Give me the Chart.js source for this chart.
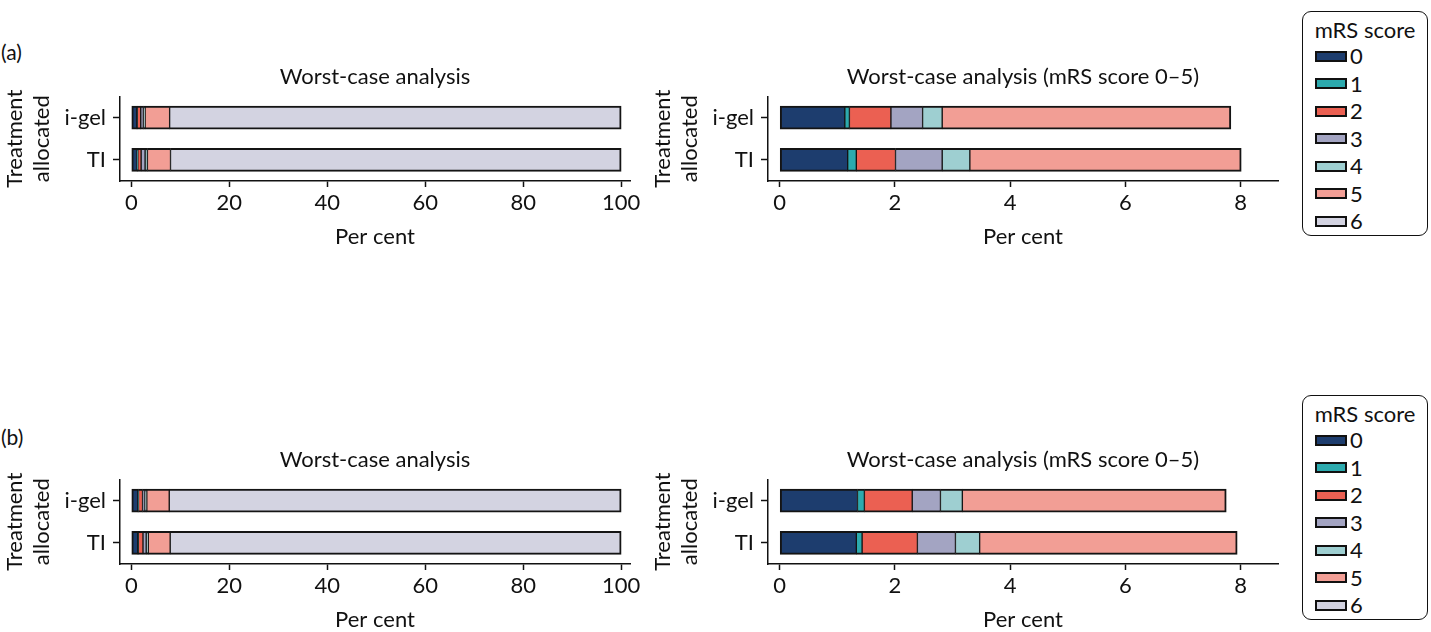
<!DOCTYPE html>
<html lang="en">
<head>
<meta charset="UTF-8">
<title>mRS score by treatment allocated</title>
<script src="https://cdn.jsdelivr.net/npm/chart.js"></script>
<style>
  body { margin: 0; width: 1431px; height: 632px; overflow: hidden; background: #fff; font-family: Lato, sans-serif; color: #111; }
  canvas { position: absolute; }
  .tag { position: absolute; left: 1px; font-size: 21px; line-height: 24px; }
  .legend { position: absolute; left: 1302px; width: 126px; height: 225px; box-sizing: border-box; border: 1.5px solid #111; border-radius: 9px; font-size: 22px; }
  .legend .ttl { position: absolute; left: 0; width: 100%; text-align: center; top: 5px; line-height: 26px; }
  .legend .row { position: absolute; left: 12px; height: 26px; line-height: 26px; display: flex; align-items: center; }
  .legend .sw { width: 32px; height: 11px; box-sizing: border-box; border: 2px solid #111; margin-right: 3px; }
</style>
</head>
<body>
<div class="tag" style="top:40px">(a)</div>
<div class="tag" style="top:425px">(b)</div>
<canvas id="aLeft" width="650" height="190" style="left:0px;top:60px"></canvas>
<canvas id="aRight" width="650" height="190" style="left:648px;top:60px"></canvas>
<canvas id="bLeft" width="650" height="190" style="left:0px;top:443px"></canvas>
<canvas id="bRight" width="650" height="190" style="left:648px;top:443px"></canvas>
<div class="legend" id="legA" style="top:11px"></div>
<div class="legend" id="legB" style="top:395px"></div>

<script>
// treatment groups and mRS scores
const groups = ['i-gel', 'TI'];
const scores = ['0', '1', '2', '3', '4', '5', '6'];
const scoreColors = ['#1d3d6e', '#2caaae', '#eb6052', '#a3a4c2', '#9ecfd1', '#f29e95', '#d3d3e1'];

// per cent in each mRS score
// (a)
const aIgel = [1.13, 0.08, 0.72, 0.55, 0.34, 5.01, 92.17];
const aTI   = [1.18, 0.15, 0.68, 0.81, 0.48, 4.71, 91.99];
// (b)
const bIgel = [1.35, 0.12, 0.83, 0.49, 0.38, 4.58, 92.25];
const bTI   = [1.33, 0.10, 0.96, 0.66, 0.42, 4.47, 92.06];

const fullTicks = [0, 20, 40, 60, 80, 100];
const zoomTicks = [0, 2, 4, 6, 8];

Chart.defaults.font.family = 'Lato';
Chart.defaults.font.size = 22;
Chart.defaults.color = '#111';

const INK = '#111';

function makePanel(id, igel, ti, nScores, title, min, max, tickVals) {
    const datasets = [];
    for (let i = 0; i < nScores; i++) {
        datasets.push({
            label: scores[i],
            data: [igel[i], ti[i]],
            backgroundColor: scoreColors[i],
            borderColor: '#141414',
            borderWidth: { top: 2, bottom: 2, left: i === 0 ? 2 : 1, right: i === nScores - 1 ? 2 : 1 },
            borderSkipped: false,
            barThickness: 23
        });
    }
    new Chart(document.getElementById(id), {
        type: 'bar',
        data: { labels: groups, datasets: datasets },
        options: {
            indexAxis: 'y',
            responsive: false,
            animation: false,
            layout: { padding: { top: 0, right: 20, bottom: 0, left: 0 } },
            plugins: {
                legend: { display: false },
                tooltip: { enabled: false },
                title: {
                    display: true, text: title, fullSize: false, color: INK,
                    font: { size: 22, weight: 'normal' },
                    padding: { top: 4, bottom: 6 }
                }
            },
            scales: {
                x: {
                    type: 'linear', stacked: true, min: min, max: max,
                    afterBuildTicks: s => { s.ticks = tickVals.map(v => ({ value: v })); },
                    afterFit: s => { s.height = 69; },
                    ticks: { color: INK, padding: 3 },
                    grid: { drawOnChartArea: false, drawTicks: true, tickLength: 6, tickWidth: 1.5, tickColor: INK },
                    border: { display: true, color: INK, width: 1.5 },
                    title: { display: true, text: 'Per cent', color: INK, padding: { top: 0, bottom: 0 } }
                },
                y: {
                    stacked: true, offset: true,
                    afterFit: s => { s.width = 120; },
                    ticks: { color: INK, padding: 7 },
                    grid: { offset: false, drawOnChartArea: false, drawTicks: true, tickLength: 7, tickWidth: 1.5, tickColor: INK },
                    border: { display: true, color: INK, width: 1.5 },
                    title: {
                        display: true, text: ['Treatment', 'allocated'], color: INK,
                        font: { size: 22, lineHeight: 1.25 },
                        padding: { top: 1, bottom: 0 }
                    }
                }
            }
        }
    });
}

makePanel('aLeft', aIgel, aTI, 7, 'Worst-case analysis', -2.3, 101.8, fullTicks);
makePanel('aRight', aIgel, aTI, 6, 'Worst-case analysis (mRS score 0–5)', -0.203, 8.648, zoomTicks);
makePanel('bLeft', bIgel, bTI, 7, 'Worst-case analysis', -2.3, 101.8, fullTicks);
makePanel('bRight', bIgel, bTI, 6, 'Worst-case analysis (mRS score 0–5)', -0.203, 8.648, zoomTicks);

function makeLegend(id) {
    const box = document.getElementById(id);
    let html = '<div class="ttl">mRS score</div>';
    scores.forEach((s, i) => {
        const top = 31 + 27.5 * i;
        html += '<div class="row" style="top:' + top + 'px"><span class="sw" style="background:' +
            scoreColors[i] + '"></span><span>' + s + '</span></div>';
    });
    box.innerHTML = html;
}
makeLegend('legA');
makeLegend('legB');
</script>
</body>
</html>
